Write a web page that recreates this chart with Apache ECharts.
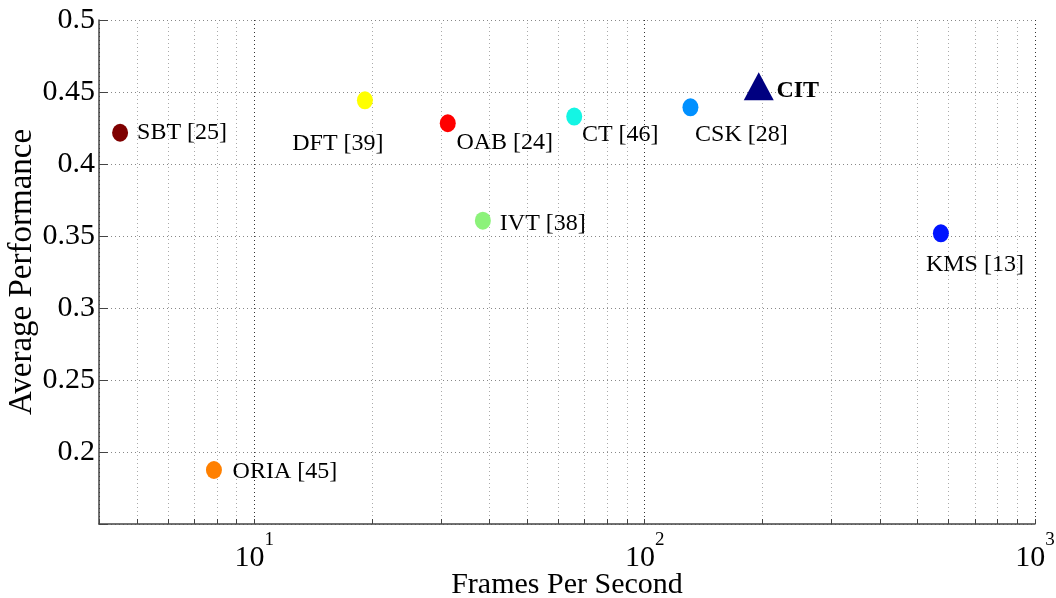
<!DOCTYPE html>
<html>
<head>
<meta charset="utf-8">
<script src="https://cdn.jsdelivr.net/npm/echarts@6/dist/echarts.min.js"></script>
<style>
  html, body { margin: 0; padding: 0; background: #fff; }
  #chart { width: 1056px; height: 598px; }
</style>
</head>
<body>
<div id="chart"></div>
<script>
// Trackers compared by speed (frames per second) and average performance
const methods = ['SBT [25]', 'DFT [39]', 'OAB [24]', 'CT [46]', 'CSK [28]', 'IVT [38]', 'KMS [13]', 'ORIA [45]'];
const fps = [4.53, 19.2, 31.3, 66.0, 131, 38.5, 574, 7.88];
const performance = [0.4217, 0.4442, 0.4283, 0.4329, 0.4394, 0.3606, 0.3519, 0.1875];
const methodColors = ['#7f0000', '#ffff00', '#ff0000', '#14f5e4', '#0090ff', '#8cf27a', '#0014ff', '#ff8000'];

// Proposed tracker
const proposedName = 'CIT';
const proposedFps = 196;
const proposedPerf = 0.454;

// Axis ranges and ticks
const xMin = 4, xMax = 1000;
const yMin = 0.15, yMax = 0.5, yStep = 0.05;
const decades = [1, 10, 100];
const minorSteps = [2, 3, 4, 5, 6, 7, 8, 9];

// Label placement around each marker (pixel offsets from marker centre)
const labelOffsets = {
  'SBT [25]': [62, 0],
  'DFT [39]': [-27, 43],
  'OAB [24]': [57, 19],
  'CT [46]': [46, 18],
  'CSK [28]': [51, 27],
  'IVT [38]': [60, 3],
  'KMS [13]': [34, 31],
  'ORIA [45]': [71, 2]
};

const FONT = "'Liberation Serif', 'Times New Roman', serif";

const minorTicks = [];
decades.forEach(d => minorSteps.forEach(m => {
  const v = m * d;
  if (v > xMin && v < xMax) minorTicks.push(v);
}));

const chart = echarts.init(document.getElementById('chart'));

chart.setOption({
  animation: false,
  backgroundColor: '#ffffff',
  textStyle: { fontFamily: FONT },
  grid: { left: 99, right: 21, top: 20, bottom: 74, outerBoundsMode: 'none', containLabel: false },
  xAxis: {
    type: 'log',
    logBase: 10,
    min: xMin,
    max: xMax,
    name: 'Frames Per Second',
    nameLocation: 'middle',
    nameGap: 46,
    nameMoveOverlap: false,
    nameTextStyle: { fontFamily: FONT, fontSize: 30, color: '#000' },
    axisLine: { show: true, lineStyle: { color: '#444', width: 1.5 } },
    axisTick: { show: true, inside: true, length: 5, lineStyle: { color: '#444' } },
    axisLabel: {
      margin: 7,
      color: '#000',
      formatter: function (v) {
        const e = Math.log10(v);
        const r = Math.round(e);
        if (Math.abs(e - r) > 1e-6 || v <= xMin * 1.01) return '';
        return '{b|10}{s|' + r + '}';
      },
      rich: {
        b: { fontFamily: FONT, fontSize: 30, lineHeight: 42, verticalAlign: 'bottom', color: '#000' },
        s: { fontFamily: FONT, fontSize: 19, lineHeight: 19, verticalAlign: 'top', color: '#000' }
      }
    },
    splitLine: { show: true, lineStyle: { color: '#333', type: [1, 3], width: 1 } }
  },
  yAxis: {
    type: 'value',
    min: yMin,
    max: yMax,
    interval: yStep,
    name: 'Average Performance',
    nameLocation: 'middle',
    nameGap: 60,
    nameMoveOverlap: false,
    nameTextStyle: { fontFamily: FONT, fontSize: 33, color: '#000' },
    axisLine: { show: true, lineStyle: { color: '#444', width: 1.5 } },
    axisTick: { show: true, inside: true, length: 9, lineStyle: { color: '#444' } },
    axisLabel: {
      margin: 4,
      fontFamily: FONT,
      fontSize: 30,
      color: '#000',
      formatter: function (v) {
        if (Math.abs(v - yMin) < 1e-9) return '';
        return String(+v.toFixed(2));
      }
    },
    splitLine: { show: true, lineStyle: { color: '#888', type: [1, 3], width: 1 } }
  },
  series: [
    {
      // minor logarithmic grid lines with inward ticks on the x axis
      type: 'custom',
      silent: true,
      z: 1,
      data: minorTicks.map(v => [v, yMin]),
      renderItem: function (params, api) {
        const v = api.value(0);
        const bottom = api.coord([v, yMin]);
        const top = api.coord([v, yMax]);
        const x = Math.round(bottom[0]) + 0.5;
        return {
          type: 'group',
          children: [
            {
              type: 'line',
              shape: { x1: x, y1: bottom[1], x2: x, y2: top[1] },
              style: { stroke: '#aaa', lineWidth: 1, lineDash: [1, 3] }
            },
            {
              type: 'line',
              shape: { x1: x, y1: bottom[1], x2: x, y2: bottom[1] - 5 },
              style: { stroke: '#444', lineWidth: 1 }
            }
          ]
        };
      }
    },
    {
      type: 'scatter',
      z: 5,
      symbol: 'circle',
      symbolSize: [16, 18],
      itemStyle: { opacity: 1 },
      data: methods.map((name, i) => ({
        name: name,
        value: [fps[i], performance[i]],
        itemStyle: { color: methodColors[i], opacity: 1 },
        label: { offset: labelOffsets[name] }
      })),
      label: {
        show: true,
        position: 'inside',
        formatter: '{b}',
        fontFamily: FONT,
        fontSize: 24,
        color: '#000',
        opacity: 1
      }
    },
    {
      type: 'scatter',
      z: 6,
      symbol: 'triangle',
      symbolSize: [30, 28],
      data: [{ name: proposedName, value: [proposedFps, proposedPerf] }],
      itemStyle: { color: '#000080', opacity: 1 },
      label: {
        show: true,
        position: 'inside',
        offset: [39, 5],
        formatter: '{b}',
        fontFamily: FONT,
        fontSize: 24,
        fontWeight: 'bold',
        color: '#000',
        opacity: 1
      }
    }
  ]
});
</script>
</body>
</html>
